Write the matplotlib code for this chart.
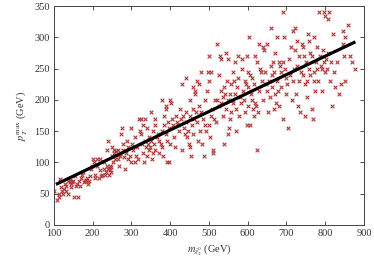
import matplotlib
matplotlib.use("Agg")
import matplotlib.pyplot as plt

plt.rcParams['font.family'] = ['Liberation Serif', 'DejaVu Serif']
plt.rcParams['mathtext.fontset'] = 'stix'

pts = [
 (100,55),(107,40),(112,45),(113,50),(115,74),(118,60),(120,55),(122,50),(125,58),(128,65),(130,62),(132,55),
 (135,50),(137,70),(140,68),(142,72),(143,60),(145,65),(147,68),(150,70),(152,44),(155,78),(157,62),(160,65),
 (163,44),(165,70),(168,62),(170,75),(172,80),(175,85),(178,68),(180,70),(183,72),(185,75),(188,65),(190,70),
 (193,78),(195,90),(198,95),
 (200,105),(203,100),(205,80),(207,75),(210,105),(212,95),(215,75),(218,105),(220,88),(222,78),(225,80),(228,100),
 (230,90),(232,80),(235,85),(237,120),(238,95),(240,90),(240,135),(242,80),(244,88),(245,95),(246,85),(248,92),
 (250,125),(250,110),(252,100),(255,120),(256,115),(258,105),(260,118),(262,112),(265,120),(265,105),(268,95),
 (270,110),(272,145),(275,155),(277,130),(278,120),(280,108),(282,90),(285,115),(288,135),(290,105),(292,125),
 (295,110),(298,100),
 (300,155),(302,130),(305,120),(308,100),(310,140),(312,110),(315,125),(318,105),(320,170),(322,150),(325,145),
 (325,170),(328,130),(330,115),(330,160),(332,100),(335,170),(335,135),(338,125),(340,155),(340,110),(342,130),
 (345,140),(345,120),(348,125),(350,180),(350,135),(352,105),(355,115),(355,150),(358,130),(360,170),(360,160),
 (362,120),(365,140),(368,145),(370,135),(372,115),(375,130),(378,125),(380,150),(380,200),(382,110),(385,160),
 (388,145),(390,190),(392,135),(395,165),(398,155),(398,100),(400,200),(400,130),(403,195),(405,170),(407,160),
 (410,140),(412,125),(388,185),(383,175),(392,100),
 (415,175),(418,165),(420,160),(422,150),(425,185),(428,170),(430,225),(430,120),(432,175),(435,155),(437,145),
 (440,235),(440,180),(442,165),(444,140),(446,150),(448,130),(450,200),(450,125),(452,175),(453,110),(455,160),
 (458,185),(460,220),(460,145),(462,170),(463,215),(465,210),(467,180),(470,230),(470,165),(472,135),(475,225),
 (475,190),(478,150),(480,245),(480,180),(482,130),(485,170),(488,110),(490,200),(490,160),(493,150),(495,215),
 (497,245),(500,230),(500,160),(502,140),(505,175),(507,185),(510,120),(510,115),(512,170),(515,200),(518,165),
 (500,270),(505,245),(520,290),(522,200),(525,190),(527,240),(528,270),(530,265),(530,195),(532,215),(535,205),
 (537,175),(538,130),(540,220),(542,210),(545,275),(545,185),(547,230),(548,145),(550,265),(550,200),(552,155),
 (555,170),(555,210),(557,225),(558,180),(560,200),(562,195),(563,245),(565,230),(567,260),(568,210),(570,185),
 (570,150),(572,220),(575,270),(575,235),(578,175),(580,205),(582,195),(585,265),(585,250),(587,215),(590,200),
 (592,180),(593,230),(595,225),(597,160),(598,270),(600,245),(600,220),(602,190),(603,300),(605,160),(607,240),
 (608,210),(610,235),(612,200),(613,185),(615,175),(617,225),(618,270),(620,195),(622,190),(625,120),(625,260),
 (627,180),(628,215),
 (630,290),(632,250),(635,245),(637,230),(640,285),(640,200),(642,280),(645,245),(647,225),(650,290),(650,215),
 (652,180),(655,230),(657,205),(660,315),(660,255),(662,240),(663,220),(665,260),(667,185),(668,245),(670,275),
 (670,210),(672,195),(675,300),(675,230),(677,215),(680,260),(680,190),(683,255),(685,245),(687,220),(690,340),
 (690,170),(692,260),(695,300),(697,250),(700,235),(700,210),(702,225),(705,155),(707,265),(710,240),(712,285),
 (715,200),(717,230),(718,310),(720,250),(722,315),(723,280),(725,210),(727,295),(728,255),(730,190),(732,270),
 (733,230),(735,180),(737,245),
 (740,290),(742,240),(743,285),(745,270),(747,225),(748,175),(750,260),(752,205),(753,230),(755,305),(757,250),
 (758,295),(760,240),(762,275),(765,270),(767,185),(768,170),(770,300),(770,230),(772,245),(775,215),(777,260),
 (778,250),(780,285),(782,230),(785,340),(787,270),(790,255),(792,250),(793,215),(795,280),(797,340),(798,260),
 (800,335),(800,245),(803,265),(805,250),(807,330),(808,275),(810,340),(812,230),(815,260),(817,190),(820,305),
 (822,245),(825,220),(830,260),(835,210),(840,225),(845,290),(847,310),(848,270),(850,300),(852,230),(860,320),
 (863,270),(868,260),(878,250),
]
mass = [p[0] for p in pts]
ptmax = [p[1] for p in pts]

fit_x = [105, 878]
fit_y = [65, 293]

xticks = [100, 200, 300, 400, 500, 600, 700, 800, 900]
yticks = [0, 50, 100, 150, 200, 250, 300, 350]

fig = plt.figure(figsize=(3.74, 2.63), dpi=100)
ax = fig.add_axes([0.1444, 0.1445, 0.8286, 0.832])

ax.scatter(mass, ptmax, marker='x', s=7, linewidths=0.8, color='#b03535', zorder=2)
ax.plot(fit_x, fit_y, color='black', lw=2.3, zorder=3, solid_capstyle='butt')

ax.set_xlim(100, 900)
ax.set_ylim(0, 350)
ax.set_xticks(xticks)
ax.set_yticks(yticks)
ax.tick_params(direction='in', length=3, width=0.6, labelsize=7.5, colors='#333333',
               top=True, right=True, pad=3)
for s in ax.spines.values():
    s.set_linewidth(0.7)
    s.set_color('#444444')

ax.set_xlabel(r'$m_{\tilde{\chi}_2^0}$ (GeV)', fontsize=7.5, color='#333333', labelpad=3)
ax.set_ylabel(r'$p_T^{\rm max}$ (GeV)', fontsize=7.5, color='#333333', labelpad=4)

fig.savefig('out.png', dpi=100)
